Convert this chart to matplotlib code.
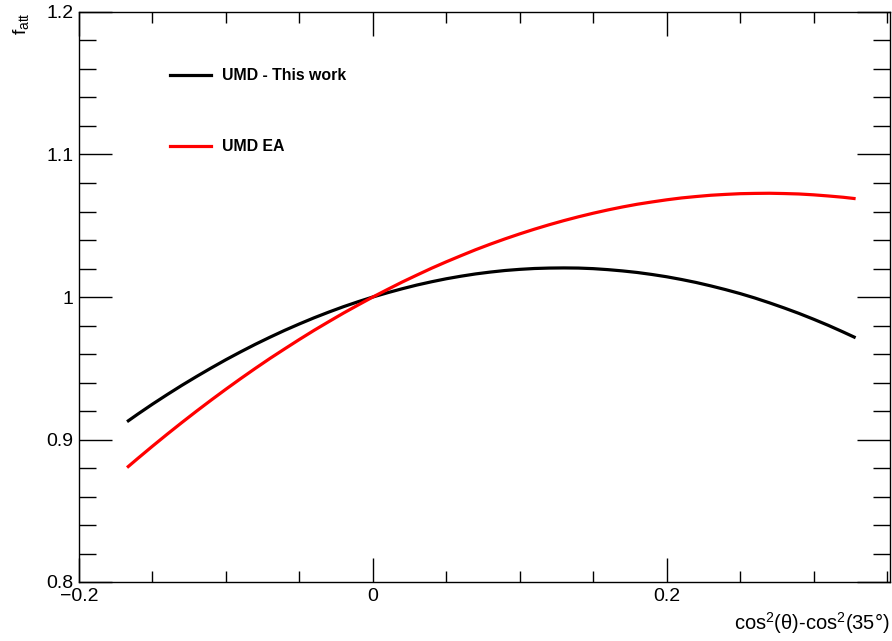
import matplotlib
matplotlib.use("Agg")
import matplotlib.pyplot as plt
from matplotlib.ticker import MultipleLocator

plt.rcParams['font.family'] = ['Liberation Sans', 'DejaVu Sans']
plt.rcParams['mathtext.fontset'] = 'custom'
plt.rcParams['mathtext.rm'] = 'Liberation Sans'
plt.rcParams['mathtext.it'] = 'Liberation Sans'

# cos^2(theta) - cos^2(35 deg)
x_vals = [-0.1673, -0.16, -0.15, -0.14, -0.13, -0.12, -0.11, -0.10, -0.09, -0.08,
          -0.07, -0.06, -0.05, -0.04, -0.03, -0.02, -0.01, 0.0, 0.01, 0.02,
          0.03, 0.04, 0.05, 0.06, 0.07, 0.08, 0.09, 0.10, 0.11, 0.12,
          0.13, 0.14, 0.15, 0.16, 0.17, 0.18, 0.19, 0.20, 0.21, 0.22,
          0.23, 0.24, 0.25, 0.26, 0.27, 0.28, 0.29, 0.30, 0.31, 0.32, 0.3286]
# attenuation factor, this work
f_this_work = [0.9125, 0.9178, 0.9248, 0.9315, 0.9380, 0.9442, 0.9502, 0.9560, 0.9615, 0.9668,
               0.9718, 0.9766, 0.9811, 0.9854, 0.9894, 0.9932, 0.9967, 1.0000, 1.0030, 1.0058,
               1.0084, 1.0107, 1.0128, 1.0146, 1.0162, 1.0175, 1.0186, 1.0194, 1.0200, 1.0203,
               1.0204, 1.0203, 1.0199, 1.0192, 1.0183, 1.0172, 1.0158, 1.0142, 1.0123, 1.0102,
               1.0078, 1.0052, 1.0024, 0.9993, 0.9959, 0.9923, 0.9885, 0.9844, 0.9801, 0.9755, 0.9714]
# attenuation factor, EA
f_ea = [0.8803, 0.8867, 0.8953, 0.9037, 0.9119, 0.9199, 0.9277, 0.9353, 0.9427, 0.9499,
        0.9569, 0.9636, 0.9702, 0.9766, 0.9827, 0.9887, 0.9944, 1.0000, 1.0053, 1.0105,
        1.0154, 1.0202, 1.0247, 1.0290, 1.0332, 1.0371, 1.0408, 1.0443, 1.0476, 1.0507,
        1.0536, 1.0563, 1.0588, 1.0611, 1.0632, 1.0651, 1.0667, 1.0682, 1.0695, 1.0705,
        1.0714, 1.0720, 1.0725, 1.0727, 1.0728, 1.0726, 1.0723, 1.0717, 1.0709, 1.0700, 1.0690]

series_labels = ["UMD - This work", "UMD EA"]
x_ticks = [-0.2, 0.0, 0.2]
x_tick_labels = ["\u22120.2", "0", "0.2"]
y_ticks = [0.8, 0.9, 1.0, 1.1, 1.2]
y_tick_labels = ["0.8", "0.9", "1", "1.1", "1.2"]

fig = plt.figure(figsize=(8.92, 6.41), dpi=100)
ax = fig.add_axes([79 / 892, 59 / 641, 811 / 892, 570 / 641])

ax.plot(x_vals, f_this_work, color='black', lw=2.3, solid_capstyle='butt',
        solid_joinstyle='round')
ax.plot(x_vals, f_ea, color='#ff0000', lw=2.3, solid_capstyle='butt',
        solid_joinstyle='round')

ax.set_xlim(-0.2, 0.352)
ax.set_ylim(0.8, 1.2)

ax.set_xticks(x_ticks)
ax.set_xticklabels(x_tick_labels)
ax.set_yticks(y_ticks)
ax.set_yticklabels(y_tick_labels)
ax.xaxis.set_minor_locator(MultipleLocator(0.05))
ax.yaxis.set_minor_locator(MultipleLocator(0.02))

ax.tick_params(which='both', direction='in', top=True, right=True,
               labelsize=14, width=1.0, color='black')
ax.tick_params(axis='x', which='major', length=17, pad=4)
ax.tick_params(axis='x', which='minor', length=8)
ax.tick_params(axis='y', which='major', length=24, pad=4)
ax.tick_params(axis='y', which='minor', length=12)
for sp in ax.spines.values():
    sp.set_linewidth(1.0)

ax.text(1.0, -41 / 570, "cos$^{2}$(\u03b8)-cos$^{2}$(35\u00b0)", transform=ax.transAxes,
        ha='right', va='center', fontsize=14.5)
ax.text(-58 / 811, 1.0, r"f$_{\mathrm{att}}$", transform=ax.transAxes,
        ha='center', va='top', rotation=90, fontsize=14)

# legend entries
leg_y = [75, 146]
colors = ['black', '#ff0000']
for lab, yy, c in zip(series_labels, leg_y, colors):
    yf = 1 - yy / 641
    fig.add_artist(plt.Line2D([170 / 892, 211 / 892], [yf, yf], color=c, lw=2.3,
                              transform=fig.transFigure))
    fig.text(222 / 892, yf, lab, ha='left', va='center', fontsize=11.4,
             fontweight='bold')

fig.savefig("out.png", dpi=100)
